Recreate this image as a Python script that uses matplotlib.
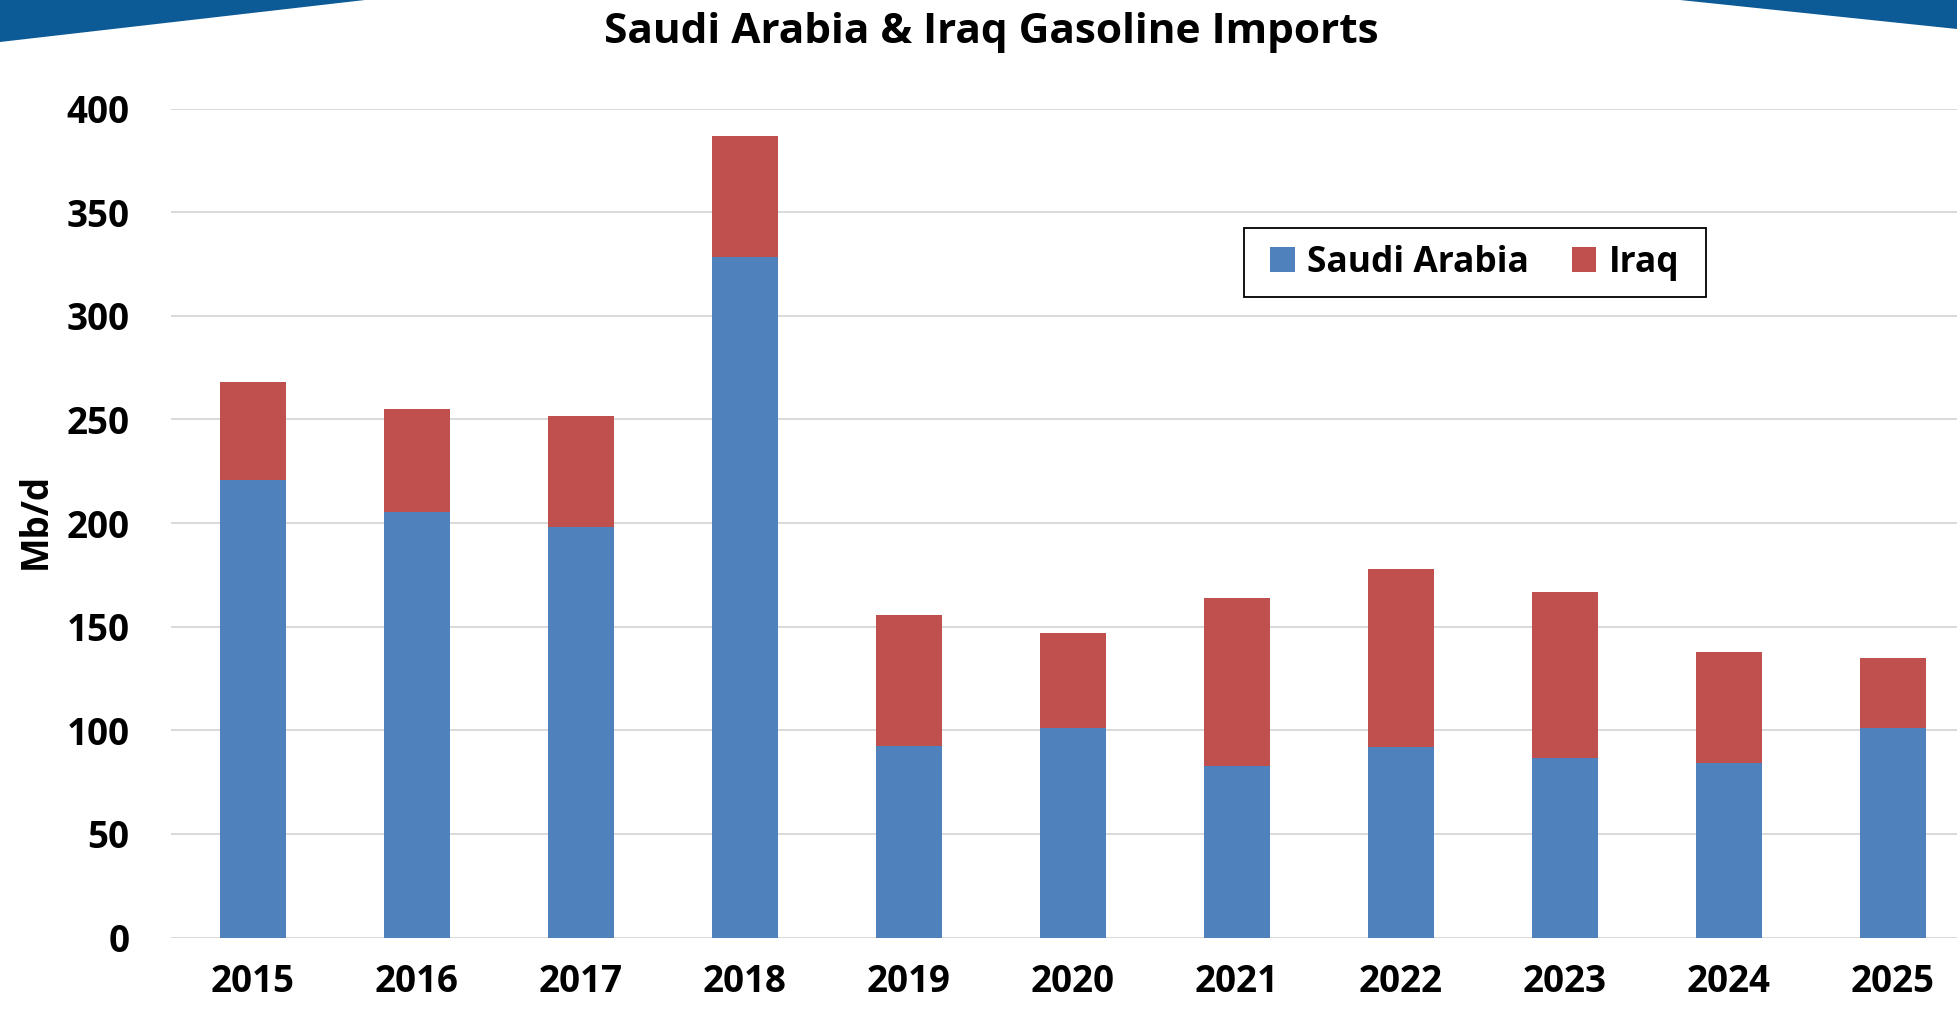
import matplotlib.pyplot as plt
from matplotlib.patches import Polygon, Rectangle
from matplotlib.transforms import IdentityTransform

plt.rcParams['font.family'] = ['Open Sans', 'DejaVu Sans']

# data (Mb/d)
anos = ['2015', '2016', '2017', '2018', '2019', '2020', '2021', '2022', '2023', '2024', '2025']
saudi = [221, 205.5, 198, 328.5, 92.5, 101, 83, 92, 86.5, 84, 101]
iraq = [47, 49.5, 53.5, 58.5, 63, 46, 81, 86, 80, 54, 34]
yticks = [0, 50, 100, 150, 200, 250, 300, 350, 400]

W, H = 1957, 1010
fig = plt.figure(figsize=(W / 100, H / 100), dpi=100)
fig.patch.set_facecolor('white')

# faixas azuis nos cantos superiores
azul_topo = '#0d5b96'
fig.patches.append(Polygon([(0, 1), (365 / W, 1), (0, 1 - 42 / H)], closed=True,
                           transform=fig.transFigure, facecolor=azul_topo, edgecolor='none'))
fig.patches.append(Polygon([(1680 / W, 1), (1, 1), (1, 1 - 29 / H)], closed=True,
                           transform=fig.transFigure, facecolor=azul_topo, edgecolor='none'))

left, right = 171 / W, 1.0
bottom, top = (H - 937.5) / H, (H - 108.6) / H
ax = fig.add_axes([left, bottom, right - left, top - bottom])

x = list(range(len(anos)))
ax.bar(x, saudi, width=0.40, color='#4f81bd', label='Saudi Arabia', zorder=3)
ax.bar(x, iraq, width=0.40, bottom=saudi, color='#c0504d', label='Iraq', zorder=3)

ax.set_xlim(-0.5, -0.5 + (W - 171) / 164)
ax.set_ylim(0, 400)
ax.set_yticks(yticks)
ax.set_xticks(x)
ax.set_xticklabels(anos)
ax.tick_params(axis='both', length=0, labelsize=26.5)
ax.tick_params(axis='x', pad=18)
ax.tick_params(axis='y', pad=30)
for lbl in ax.get_xticklabels() + ax.get_yticklabels():
    lbl.set_fontweight('bold')

ax.yaxis.grid(True, color='#d9d9d9', linewidth=1.4, zorder=0)
ax.set_axisbelow(True)
for s in ax.spines.values():
    s.set_visible(False)

fig.text(36 / W, (H - 521) / H, 'Mb/d', rotation=90, ha='center', va='center',
         fontsize=26.5, fontweight='bold')
fig.text(991 / W, (H - 43) / H, 'Saudi Arabia & Iraq Gasoline Imports', ha='center',
         va='baseline', fontsize=30.5, fontweight='bold')

leg = ax.legend(loc='center', bbox_to_anchor=(0.730, 0.814), ncol=2, frameon=False,
                prop={'weight': 'bold', 'size': 25.5}, handlelength=0.7,
                handleheight=0.7, handletextpad=0.35, columnspacing=1.2, borderpad=0.35)
leg.set_zorder(6)

# moldura da legenda com mais folga lateral
fig.canvas.draw()
bb = leg.get_window_extent()
padx, pady = 14, 4
moldura = Rectangle((bb.x0 - padx, bb.y0 - pady), bb.width + 2 * padx, bb.height + 2 * pady,
                    transform=IdentityTransform(), facecolor='white', edgecolor='black',
                    linewidth=1.3, zorder=5, clip_on=False)
ax.add_artist(moldura)

fig.savefig('out.png', dpi=100, facecolor='white')
